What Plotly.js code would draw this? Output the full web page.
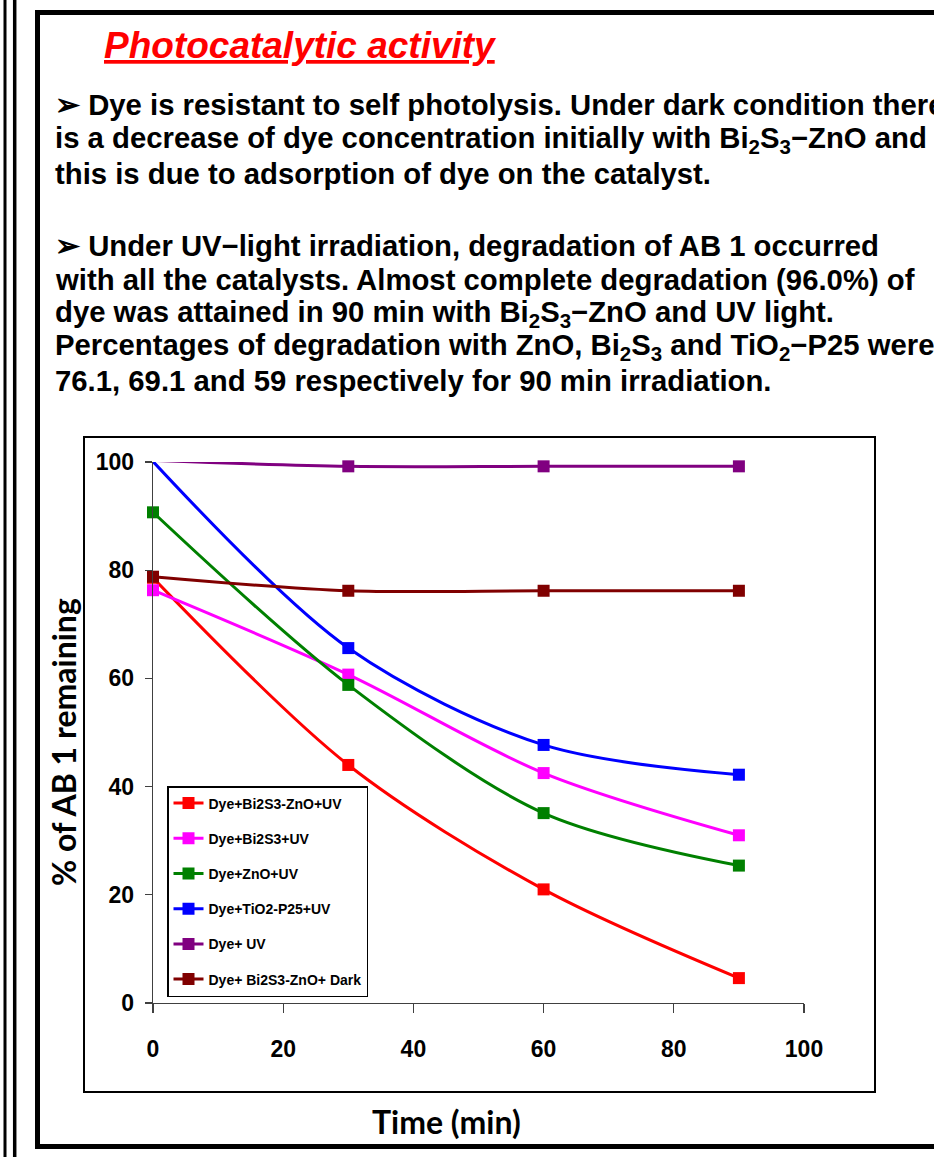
<!DOCTYPE html>
<html>
<head>
<meta charset="utf-8">
<script src="https://cdn.plot.ly/plotly-3.0.1.min.js"></script>
<style>html,body{margin:0;padding:0;background:#fff;}#chart{width:934px;height:1157px;}</style>
</head>
<body>
<div id="chart"></div>
<script>
// ---- data ----
var timeMin = [0, 30, 60, 90];
var seriesNames = ["Dye+Bi2S3-ZnO+UV", "Dye+Bi2S3+UV", "Dye+ZnO+UV", "Dye+TiO2-P25+UV", "Dye+ UV", "Dye+ Bi2S3-ZnO+ Dark"];
var bi2s3ZnoUV = [78.6, 44.0, 21.0, 4.6];
var bi2s3UV = [76.3, 60.7, 42.5, 31.0];
var znoUV = [90.7, 58.8, 35.1, 25.4];
var tio2UV = [100.1, 65.6, 47.7, 42.2];
var dyeUV = [100.3, 99.2, 99.2, 99.2];
var bi2s3ZnoDark = [78.8, 76.2, 76.2, 76.2];
var xTicks = [0, 20, 40, 60, 80, 100];
var yTicks = [0, 20, 40, 60, 80, 100];
var titleText = "Photocatalytic activity";
var arrowMark = "<span style=\"font-size:30px\">\u27A2</span>";
var para1 = [
  arrowMark + " Dye is resistant to self photolysis. Under dark condition there",
  "is a decrease of dye concentration initially with Bi<sub>2</sub>S<sub>3</sub>\u2212ZnO and",
  "this is due to adsorption of dye on the catalyst."
];
var para2 = [
  arrowMark + " Under UV\u2212light irradiation, degradation of AB 1 occurred",
  "with all the catalysts. Almost complete degradation (96.0%) of",
  "dye was attained in 90 min with Bi<sub>2</sub>S<sub>3</sub>\u2212ZnO and UV light.",
  "Percentages of degradation with ZnO, Bi<sub>2</sub>S<sub>3</sub> and TiO<sub>2</sub>\u2212P25 were",
  "76.1, 69.1 and 59 respectively for 90 min irradiation."
];

// ---- layout helpers (pixel -> paper) ----
var W = 934, H = 1157;
var mL = 153, mR = 130, mT = 462, mB = 154;
var pw = W - mL - mR, ph = H - mT - mB;
function px(x){ return (x - mL) / pw; }
function py(y){ return 1 - (y - mT) / ph; }

var arial = "Liberation Sans, Arial, sans-serif";
var calib = "Lato, Open Sans, sans-serif";

var colors = ["#FF0000", "#FF00FF", "#008000", "#0000FF", "#800080", "#800000"];
var ys = [bi2s3ZnoUV, bi2s3UV, znoUV, tio2UV, dyeUV, bi2s3ZnoDark];

var traces = ys.map(function(y, i){
  return {
    x: timeMin, y: y, name: seriesNames[i], type: "scatter", mode: "lines+markers",
    legendgroup: "g" + i,
    line: {color: colors[i], width: 3, shape: "spline", smoothing: 0.9},
    marker: {symbol: "square", size: 12, color: colors[i]},
    cliponaxis: false
  };
});

var bodyFont = {family: arial, size: 29.3, color: "#000", weight: "bold"};
var ann = [];
ann.push({
  text: "<i>" + titleText + "</i>", xref: "paper", yref: "paper", x: px(102), y: py(45),
  xanchor: "left", yanchor: "middle", showarrow: false,
  font: {family: arial, size: 37, color: "#FF0000", weight: "bold", style: "italic", lineposition: "under"}
});
var p1y = [104, 139, 173];
para1.forEach(function(t, i){
  ann.push({text: t, xref: "paper", yref: "paper", x: px(53), y: py(p1y[i]), xanchor: "left", yanchor: "middle",
    showarrow: false, align: "left", font: bodyFont});
});
var p2y = [245, 279, 313, 346, 380];
para2.forEach(function(t, i){
  ann.push({text: t, xref: "paper", yref: "paper", x: px(53), y: py(p2y[i]), xanchor: "left", yanchor: "middle",
    showarrow: false, align: "left", font: bodyFont});
});
ann.push({text: "Time (min)", xref: "paper", yref: "paper", x: px(446), y: py(1121), xanchor: "center", yanchor: "middle",
  showarrow: false, font: {family: calib, size: 32, color: "#000", weight: "bold"}});
ann.push({text: "% of AB 1 remaining", xref: "paper", yref: "paper", x: px(63), y: py(742), xanchor: "center", yanchor: "middle",
  textangle: -90, showarrow: false, font: {family: calib, size: 32, color: "#000", weight: "bold"}});

var shapes = [
  {type: "line", xref: "paper", yref: "paper", x0: px(5), x1: px(5), y0: py(0), y1: py(H), line: {color: "#000", width: 3}},
  {type: "line", xref: "paper", yref: "paper", x0: px(14.7), x1: px(14.7), y0: py(0), y1: py(H), line: {color: "#000", width: 3.5}},
  {type: "rect", xref: "paper", yref: "paper", x0: px(37.5), x1: px(960), y0: py(12.5), y1: py(1146.5), line: {color: "#000", width: 5}},
  {type: "rect", xref: "paper", yref: "paper", x0: px(84), x1: px(875), y0: py(437), y1: py(1092), line: {color: "#000", width: 2}}
];

var layout = {
  width: W, height: H,
  margin: {l: mL, r: mR, t: mT, b: mB, pad: 0},
  paper_bgcolor: "#fff", plot_bgcolor: "#fff",
  showlegend: true,
  legend: {x: px(167), y: py(786), xanchor: "left", yanchor: "top", bgcolor: "#fff", bordercolor: "#000", borderwidth: 1.5,
    font: {family: arial, size: 14, color: "#000", weight: "bold"}, traceorder: "grouped", tracegroupgap: 14},
  xaxis: {range: [0, 100], tickvals: xTicks, ticks: "outside", ticklen: 9, tickwidth: 1.3, tickcolor: "#404040",
    showline: true, linecolor: "#404040", linewidth: 1.3, showgrid: false, zeroline: false, fixedrange: true,
    tickfont: {family: arial, size: 23, color: "#000", weight: "bold"}, ticklabelstandoff: 16},
  yaxis: {range: [0, 100], tickvals: yTicks, ticks: "outside", ticklen: 7, tickwidth: 1.3, tickcolor: "#404040",
    showline: true, linecolor: "#404040", linewidth: 1.3, showgrid: false, zeroline: false, fixedrange: true,
    tickfont: {family: arial, size: 23, color: "#000", weight: "bold"}, ticklabelstandoff: 6},
  annotations: ann,
  shapes: shapes
};

Plotly.newPlot("chart", traces, layout, {displayModeBar: false, staticPlot: true});
</script>
</body>
</html>
